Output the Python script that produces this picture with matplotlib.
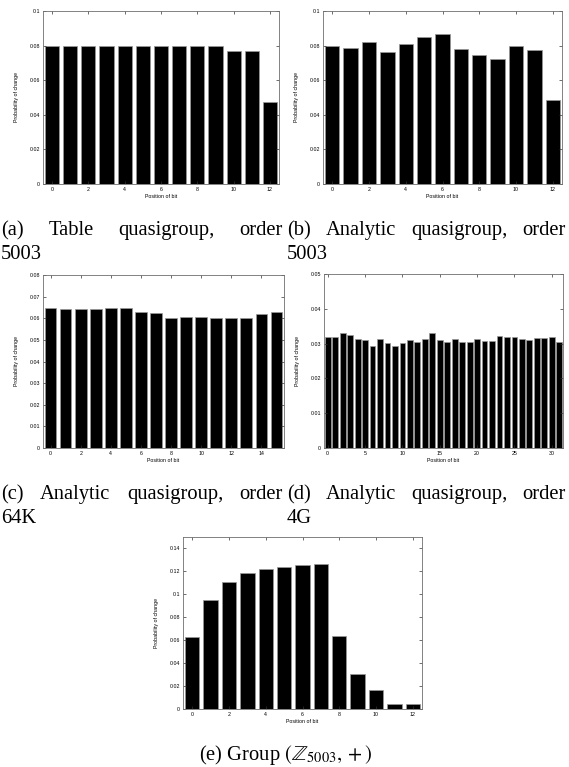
import matplotlib
matplotlib.use("Agg")
import matplotlib.pyplot as plt
import numpy as np

plt.rcParams['mathtext.fontset'] = 'stix'

W, H = 569, 767

# ---------------- data ----------------
bits_a = list(range(13))
prob_a = [0.0798, 0.0798, 0.0798, 0.0798, 0.0798, 0.0798, 0.0798, 0.0797, 0.0797,
          0.0798, 0.0770, 0.0769, 0.0473]

bits_b = list(range(13))
prob_b = [0.0800, 0.0785, 0.0821, 0.0761, 0.0810, 0.0847, 0.0868, 0.0782, 0.0746,
          0.0721, 0.0796, 0.0777, 0.0486]

bits_c = list(range(16))
prob_c = [0.0646, 0.0641, 0.0641, 0.0644, 0.0646, 0.0646, 0.0629, 0.0622, 0.0600,
          0.0608, 0.0605, 0.0603, 0.0602, 0.0600, 0.0618, 0.0627]

bits_d = list(range(32))
prob_d = [0.0319, 0.0320, 0.0330, 0.0324, 0.0314, 0.0311, 0.0292, 0.0312, 0.0303,
          0.0294, 0.0301, 0.0311, 0.0305, 0.0313, 0.0330, 0.0311, 0.0306, 0.0313,
          0.0305, 0.0304, 0.0314, 0.0307, 0.0307, 0.0321, 0.0318, 0.0320, 0.0313,
          0.0311, 0.0315, 0.0317, 0.0318, 0.0306]

bits_e = list(range(13))
prob_e = [0.0630, 0.0948, 0.1108, 0.1184, 0.1222, 0.1240, 0.1254, 0.1262, 0.0636,
          0.0306, 0.0166, 0.0044, 0.0044]

yticks_a = [0, 0.02, 0.04, 0.06, 0.08, 0.1]
yticks_c = [0, 0.01, 0.02, 0.03, 0.04, 0.05, 0.06, 0.07, 0.08]
yticks_d = [0, 0.01, 0.02, 0.03, 0.04, 0.05]
yticks_e = [0, 0.02, 0.04, 0.06, 0.08, 0.1, 0.12, 0.14]
xticks_13 = [0, 2, 4, 6, 8, 10, 12]
xticks_c = [0, 2, 4, 6, 8, 10, 12, 14]
xticks_d = [0, 5, 10, 15, 20, 25, 30]

xlabel = "Position of bit"
ylabel = "Probability of change"

fig = plt.figure(figsize=(W / 100, H / 100), dpi=100)
fig.patch.set_facecolor('white')

SMALL = 3.8
TICKFONT = ['Liberation Sans', 'DejaVu Sans']


def make_axes(l, r, t, b):
    return fig.add_axes([l / W, 1 - b / H, (r - l) / W, (b - t) / H])


def panel(rect, x, y, ylim, yticks, xticks, xlim):
    ax = make_axes(*rect)
    ax.bar(x, y, width=0.78, color='black', edgecolor='#9a9a9a', linewidth=0.5)
    ax.set_xlim(*xlim)
    ax.set_ylim(*ylim)
    ax.set_yticks(yticks)
    ax.set_yticklabels([f"{v:g}" for v in yticks], fontsize=SMALL, family=TICKFONT)
    ax.set_xticks(xticks)
    ax.set_xticklabels([f"{v:g}" for v in xticks], fontsize=SMALL, family=TICKFONT)
    ax.tick_params(direction='in', length=2.2, width=0.5, top=True, right=True,
                   pad=2.0, colors='#333333', labelcolor='black')
    for s in ax.spines.values():
        s.set_linewidth(0.6)
        s.set_color('#6e6e6e')
    ax.set_xlabel(xlabel, fontsize=SMALL, family=TICKFONT, labelpad=1.5)
    ax.set_ylabel(ylabel, fontsize=SMALL, family=TICKFONT, labelpad=8)
    return ax


panel((43, 279, 11, 184), bits_a, prob_a, (0, 0.1), yticks_a, xticks_13, (-0.5, 12.5))
panel((323, 562, 11, 184), bits_b, prob_b, (0, 0.1), yticks_a, xticks_13, (-0.5, 12.5))
panel((43, 284, 275, 448), bits_c, prob_c, (0, 0.08), yticks_c, xticks_c, (-0.5, 15.5))
panel((324, 563, 274, 448), bits_d, prob_d, (0, 0.05), yticks_d, xticks_d, (-0.5, 31.5))
panel((183, 422, 537, 709), bits_e, prob_e, (0, 0.15), yticks_e, xticks_13, (-0.5, 12.5))

# ---------------- captions ----------------
CAP = 14.8
SERIF = ['Liberation Serif', 'DejaVu Serif']
renderer = fig.canvas.get_renderer()


def justify(words, x0, x1, base):
    texts = [fig.text(0, 1 - base / H, w, fontsize=CAP, family=SERIF, va='baseline', ha='left')
             for w in words]
    widths = [t.get_window_extent(renderer).width for t in texts]
    gap = (x1 - x0 - sum(widths)) / (len(words) - 1)
    x = x0
    for t, w in zip(texts, widths):
        t.set_x(x / W)
        x += w + gap


def line(txt, x0, base):
    fig.text(x0 / W, 1 - base / H, txt, fontsize=CAP, family=SERIF, va='baseline', ha='left')


justify(["(a)", "Table", "quasigroup,", "order"], 1, 283, 235)
line("5003", 1, 259)
justify(["(b)", "Analytic", "quasigroup,", "order"], 287, 566, 235)
line("5003", 287, 259)
justify(["(c)", "Analytic", "quasigroup,", "order"], 1, 283, 499)
line("64K", 1, 523)
justify(["(d)", "Analytic", "quasigroup,", "order"], 287, 566, 499)
line("4G", 287, 523)

fig.text(286 / W, 1 - 760 / H, r"(e) Group $(\mathbb{Z}_{5003}, +)$", fontsize=CAP,
         family=SERIF, va='baseline', ha='center')

fig.savefig("out.png", dpi=100)
